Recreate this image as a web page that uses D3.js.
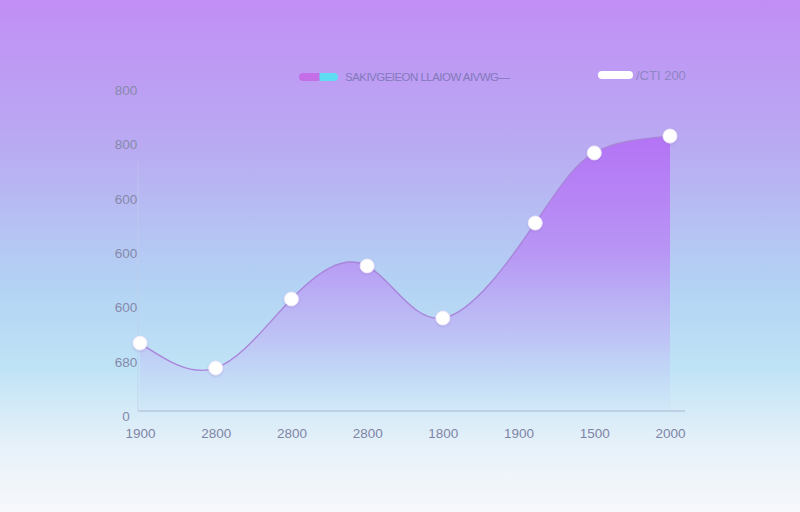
<!DOCTYPE html>
<html>
<head>
<meta charset="utf-8">
<script src="https://cdn.jsdelivr.net/npm/d3@7"></script>
<style>
  html, body { margin: 0; padding: 0; }
  body { width: 800px; height: 512px; overflow: hidden; font-family: "Liberation Sans", Arial, sans-serif; }
</style>
</head>
<body>
<div id="chart"></div>
<script>
// dados
const xLabels = ["1900", "2800", "2800", "2800", "1800", "1900", "1500", "2000"];
const xPositions = [0, 1, 2, 3, 4, 5.22, 6, 7];
const values = [125, 79, 206, 267, 171, 346, 475, 506];
const yTicks = [0, 100, 200, 300, 400, 500, 600];
const yTickLabels = ["0", "680", "600", "600", "600", "800", "800"];
const legendLabels = ["SAKIVGEIEON LLAIOW AIVWG\u2014", "/CTI 200"];

const width = 800, height = 512;
const margin = { top: 85, right: 130, bottom: 101, left: 140 };

const svg = d3.select("#chart")
  .append("svg")
  .attr("width", width)
  .attr("height", height);

const defs = svg.append("defs");

// fundo em degradê
const bg = defs.append("linearGradient")
  .attr("id", "bg").attr("x1", 0).attr("y1", 0).attr("x2", 0).attr("y2", 1);
bg.append("stop").attr("offset", "0%").attr("stop-color", "#c18ef5");
bg.append("stop").attr("offset", "30%").attr("stop-color", "#b9acf2");
bg.append("stop").attr("offset", "55%").attr("stop-color", "#b3d2f4");
bg.append("stop").attr("offset", "72%").attr("stop-color", "#bfe3f6");
bg.append("stop").attr("offset", "87%").attr("stop-color", "#e6f1f9");
bg.append("stop").attr("offset", "100%").attr("stop-color", "#f7f8fb");

svg.append("rect").attr("width", width).attr("height", height).attr("fill", "url(#bg)");

const x = d3.scaleLinear()
  .domain([0, 7])
  .range([margin.left, width - margin.right]);

const y = d3.scaleLinear()
  .domain([0, 600])
  .range([height - margin.bottom, margin.top]);

// degradê da área
const areaGrad = defs.append("linearGradient")
  .attr("id", "areaGrad")
  .attr("gradientUnits", "userSpaceOnUse")
  .attr("x1", 0).attr("x2", 0)
  .attr("y1", y(520)).attr("y2", y(0));
areaGrad.append("stop").attr("offset", "0%").attr("stop-color", "#b36ef6").attr("stop-opacity", 0.95);
areaGrad.append("stop").attr("offset", "45%").attr("stop-color", "#b98af5").attr("stop-opacity", 0.8);
areaGrad.append("stop").attr("offset", "75%").attr("stop-color", "#c0b4f5").attr("stop-opacity", 0.6);
areaGrad.append("stop").attr("offset", "100%").attr("stop-color", "#c8e4f7").attr("stop-opacity", 0.3);

const shadow = defs.append("filter").attr("id", "shadow")
  .attr("x", "-50%").attr("y", "-50%").attr("width", "200%").attr("height", "200%");
shadow.append("feDropShadow").attr("dx", 0).attr("dy", 1).attr("stdDeviation", 1.2)
  .attr("flood-color", "#8a6fc4").attr("flood-opacity", 0.35);

const data = values.map((v, i) => ({ x: xPositions[i], v }));

// eixo Y (rótulos centralizados)
const yAxis = svg.append("g")
  .attr("transform", `translate(${margin.left - 14}, 0)`)
  .call(d3.axisLeft(y).tickValues(yTicks).tickSize(0).tickPadding(0)
    .tickFormat((d, i) => yTickLabels[i]));
yAxis.select(".domain").remove();
yAxis.selectAll("text")
  .attr("text-anchor", "middle")
  .attr("fill", "#858aab")
  .attr("font-size", 13.5)
  .attr("dy", "0.7em")
  .attr("font-family", "Liberation Sans, Arial, sans-serif");

// linha vertical suave do eixo
svg.append("line")
  .attr("x1", margin.left - 2).attr("x2", margin.left - 2)
  .attr("y1", y(460)).attr("y2", y(0))
  .attr("stroke", "#c4cbe8").attr("stroke-width", 1).attr("opacity", 0.7);

// área
const curve = d3.curveNatural;

const area = d3.area()
  .x(d => x(d.x))
  .y0(y(0))
  .y1(d => y(d.v))
  .curve(curve);

svg.append("path")
  .datum(data)
  .attr("d", area)
  .attr("fill", "url(#areaGrad)");

const line = d3.line()
  .x(d => x(d.x))
  .y(d => y(d.v))
  .curve(curve);

svg.append("path")
  .datum(data)
  .attr("d", line)
  .attr("fill", "none")
  .attr("stroke", "#a985da")
  .attr("stroke-width", 1.4);

// eixo X
svg.append("line")
  .attr("x1", margin.left - 2).attr("x2", width - margin.right + 15)
  .attr("y1", y(0)).attr("y2", y(0))
  .attr("stroke", "#b7c6e0").attr("stroke-width", 1.5);

const xAxis = svg.append("g")
  .attr("transform", `translate(0, ${y(0)})`)
  .call(d3.axisBottom(d3.scalePoint().domain(d3.range(xLabels.length)).range(x.range()))
    .tickSize(0).tickPadding(17).tickFormat(i => xLabels[i]));
xAxis.select(".domain").remove();
xAxis.selectAll("text")
  .attr("fill", "#7f84a6")
  .attr("font-size", 13.5)
  .attr("font-family", "Liberation Sans, Arial, sans-serif");

// pontos
svg.selectAll(".ponto")
  .data(data)
  .enter()
  .append("circle")
  .attr("class", "ponto")
  .attr("cx", d => x(d.x))
  .attr("cy", d => y(d.v))
  .attr("r", 7)
  .attr("fill", "#ffffff")
  .attr("stroke", "#efe8fb")
  .attr("stroke-width", 1)
  .attr("filter", "url(#shadow)");

// legenda
const legGrad = defs.append("linearGradient").attr("id", "legGrad");
legGrad.append("stop").attr("offset", "0%").attr("stop-color", "#c46ee8");
legGrad.append("stop").attr("offset", "50%").attr("stop-color", "#c46ee8");
legGrad.append("stop").attr("offset", "55%").attr("stop-color", "#5fdcf2");
legGrad.append("stop").attr("offset", "100%").attr("stop-color", "#5fdcf2");

const legend = svg.append("g");
legend.append("rect")
  .attr("x", 299).attr("y", 73).attr("width", 39).attr("height", 8).attr("rx", 4)
  .attr("fill", "url(#legGrad)");
legend.append("text")
  .attr("x", 345).attr("y", 81)
  .attr("font-size", 11.5)
  .attr("fill", "#8279bb")
  .attr("textLength", 165)
  .text(legendLabels[0]);
legend.append("rect")
  .attr("x", 598).attr("y", 71).attr("width", 35).attr("height", 8).attr("rx", 4)
  .attr("fill", "#ffffff");
legend.append("text")
  .attr("x", 636).attr("y", 80)
  .attr("font-size", 13)
  .attr("fill", "#8d86c4")
  .text(legendLabels[1]);
</script>
</body>
</html>
